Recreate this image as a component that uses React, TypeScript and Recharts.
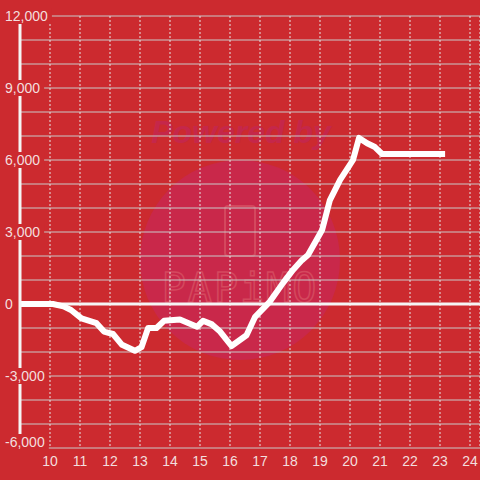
import React from "react";
import { LineChart, Line, XAxis, YAxis, CartesianGrid, ReferenceLine } from "recharts";

const hours = [9, 10.1, 10.45, 10.7, 11.05, 11.55, 11.8, 12.1, 12.4, 12.83, 13.05, 13.27, 13.55, 13.8, 14.33, 14.9, 15.1, 15.4, 15.67, 16.05, 16.55, 16.83, 17.33, 17.77, 18.1, 18.4, 18.6, 19.07, 19.33, 19.67, 19.93, 20.1, 20.3, 20.57, 20.83, 21.07, 23.17];
const balance = [0, 0, -100, -250, -600, -800, -1150, -1250, -1700, -1950, -1800, -1000, -1000, -700, -650, -950, -700, -850, -1150, -1750, -1300, -550, 100, 880, 1420, 1830, 2040, 3080, 4330, 5170, 5670, 6000, 6920, 6700, 6540, 6250, 6250];
const xTicks = [10, 11, 12, 13, 14, 15, 16, 17, 18, 19, 20, 21, 22, 23, 24];
const yTicks = [-6000, -5000, -4000, -3000, -2000, -1000, 0, 1000, 2000, 3000, 4000, 5000, 6000, 7000, 8000, 9000, 10000, 11000, 12000];

const data = hours.map((h, i) => ({ h, v: balance[i] }));

const BG = "#cc2a2f";
const TEXT = "#f3dede";
const FONT = "'Liberation Sans', Arial, sans-serif";

const fmt = (v: number) => v.toLocaleString("en-US");

const YTick = (props: any) => {
  const { y: y0, payload } = props;
  const v = payload.value as number;
  if (v % 3000 !== 0) return <g />;
  const y = v === -6000 ? y0 - 6 : y0;
  const label = fmt(v);
  let w = 0;
  for (const c of label) w += c === "," ? 3.9 : c === "-" ? 4.7 : 7.8;
  return (
    <g>
      <rect x={2} y={y - 8} width={w + 7} height={16} fill={BG} />
      <text x={5} y={y} dy={5} fill={TEXT} fontSize={14} fontFamily={FONT} textAnchor="start">
        {label}
      </text>
    </g>
  );
};

export default function App() {
  return (
    <div style={{ position: "absolute", left: 0, top: 0, width: 480, height: 480, background: BG, overflow: "hidden" }}>
      <svg width={480} height={480} style={{ position: "absolute", left: 0, top: 0 }}>
        <circle cx={240} cy={260} r={100} fill="#c9284a" />
        <text x={241} y={143} textAnchor="middle" fontSize={32} fontWeight="bold" fontStyle="italic" fontFamily={FONT} fill="#c5274a">
          Powered by
        </text>
        <rect x={225} y={206} width={30} height={50} rx={3} fill="none" stroke="#d4485e" strokeWidth={2} />
        <text x={240} y={302} textAnchor="middle" fontSize={40} fontFamily="'DejaVu Sans Mono', monospace" fill="none" stroke="#d4485e" strokeWidth={1.5} letterSpacing={2}>
          PAPiMO
        </text>
      </svg>
      <div style={{ position: "absolute", left: 0, top: 0 }}>
        <LineChart width={480} height={480} data={data} margin={{ top: 16, right: 0, bottom: 2, left: 0 }}>
          <CartesianGrid vertical={false} stroke="#c9c9c9" strokeWidth={1} />
          <CartesianGrid horizontal={false} stroke="#e6e6e6" strokeDasharray="2 2" strokeWidth={1} />
          <XAxis
            dataKey="h"
            type="number"
            domain={[9, 24.333]}
            ticks={xTicks}
            allowDataOverflow
            axisLine={false}
            tickLine={false}
            height={30}
            tick={{ fill: TEXT, fontSize: 14, fontFamily: FONT }}
            tickMargin={2}
          />
          <YAxis
            type="number"
            domain={[-6000, 12000]}
            ticks={yTicks}
            width={20}
            axisLine={{ stroke: "#f5f5f5", strokeWidth: 3 }}
            tickLine={false}
            tick={<YTick />}
            interval={0}
          />
          <ReferenceLine y={0} stroke="#f5f5f5" strokeWidth={3} />
          <Line
            type="linear"
            dataKey="v"
            stroke="#ffffff"
            strokeWidth={6}
            strokeLinejoin="round"
            dot={false}
            isAnimationActive={false}
          />
        </LineChart>
      </div>
    </div>
  );
}
